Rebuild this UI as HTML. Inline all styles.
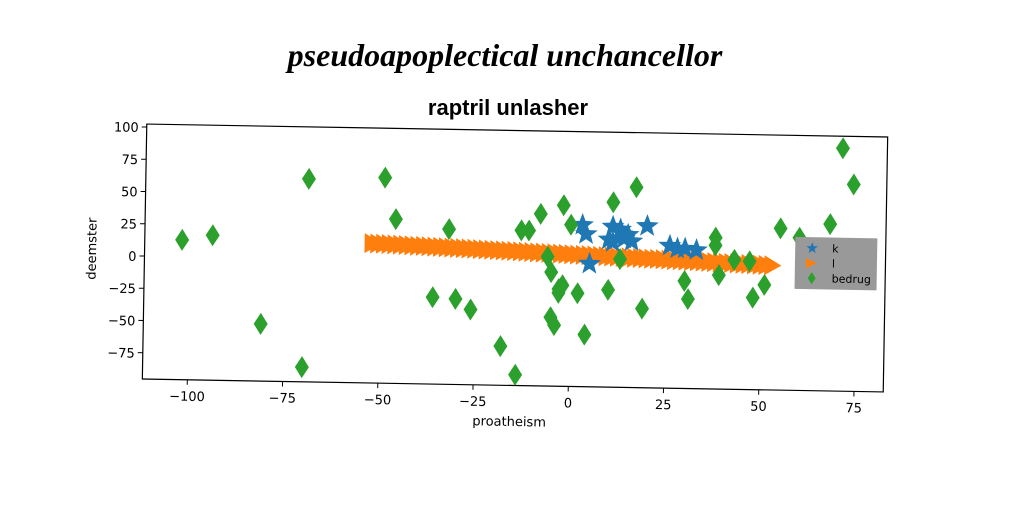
<!DOCTYPE html>
<html><head><meta charset="utf-8"><style>
html,body{margin:0;padding:0;background:#fff;}
svg text{font-family:"DejaVu Sans","Liberation Sans",sans-serif;}
</style></head><body>
<svg width="1024" height="512" viewBox="0 0 1024 512" xmlns="http://www.w3.org/2000/svg">
<rect width="1024" height="512" fill="#fff"/>
<text x="505" y="66" text-anchor="middle" font-size="32" font-style="italic" font-weight="bold" style="font-family:'Liberation Serif',serif">pseudoapoplectical unchancellor</text>
<text x="508" y="115" text-anchor="middle" font-size="22" font-weight="bold" style="font-family:'Liberation Sans Narrow','Liberation Sans',sans-serif">raptril unlasher</text>
<g id="plot" transform="rotate(1 515 258)"></g>
</svg>
<script>
const xTicks=[-100,-75,-50,-25,0,25,50,75];
const yTicks=[100,75,50,25,0,-25,-50,-75];
const kX=[3,4,10,11,13,14,15,20,26,28,30,33,11,5,16];
const kY=[30,23,19,29,27,20,23,30,15,13,13,12,17,0,18];
const lX=[-52,-50.5,-49,-47.5,-46,-44.5,-43,-41.5,-40,-38.5,-37,-35.5,-34,-32.5,-31,-29.5,-28,-26.5,-25,-23.5,-22,-20.5,-19,-17.5,-16,-14.5,-13,-11.5,-10,-8.5,-7,-5.5,-4,-2.5,-1,0.5,2,3.5,5,6.5,8,9.5,11,12.5,14,15.5,17,18.5,20,21.5,23,24.5,26,27.5,29,30.5,32,33.5,35,36.5,38,39.5,41,42.5,44,45.5,47,48.5,50,51.5,53];
const lY=[13,12.8,12.7,12.5,12.3,12.2,12,11.8,11.6,11.5,11.3,11.1,11,10.8,10.6,10.5,10.3,10.1,10,9.8,9.6,9.5,9.3,9.1,8.9,8.8,8.6,8.4,8.3,8.1,7.9,7.8,7.6,7.4,7.3,7.1,6.9,6.7,6.6,6.4,6.2,6.1,5.9,5.7,5.6,5.4,5.2,5.1,4.9,4.7,4.6,4.4,4.2,4,3.9,3.7,3.5,3.4,3.2,3,2.9,2.7,2.5,2.4,2.2,2,1.9,1.7,1.5,1.4,1.2];
const bX=[-102,-94,-81,-70,-69,-49,-46,-36,-30,-32,-26,-18,-14,-13,-11,-8,-6,-5,-5,-4,-3,-3,-2,-2,0,2,4,10,11,13,17,19,30,31,38,38,39,43,47,48,51,55,60,68,71,74];
const bY=[13,17,-51,-84,62,64,32,-28,-29,25,-37,-65,-87,25,25,38,5,-7,-42,-48,-23,-20,-17,45,30,-23,-55,-20,48,4,60,-34,-12,-26,22,16,-7,5,4,-24,-14,30,23,34,93,65];
const NS='http://www.w3.org/2000/svg';
const g=document.getElementById('plot');
const L=144.5,R=885.5,T=130.5,B=385.5;
const xs=v=>570.5+3.81*v, ys=v=>262.5-1.29*v;
function el(t,a){const e=document.createElementNS(NS,t);for(const k in a)e.setAttribute(k,a[k]);g.appendChild(e);return e;}
const frame=el('rect',{x:L,y:T,width:R-L,height:B-T,fill:'none',stroke:'#000','stroke-width':1.2});


xTicks.forEach(v=>{const x=xs(v);
 const t=el('line',{x1:x,x2:x,y1:B,y2:B+5,stroke:'#000'});
 
 
 const s=el('text',{x:x,y:B+21,'text-anchor':'middle','font-size':13});s.textContent=v<0?'\u2212'+(-v):v;
 
 });
yTicks.forEach(v=>{const y=ys(v);
 const t=el('line',{x1:L-5,x2:L,y1:y,y2:y,stroke:'#000'});
 
 
 const s=el('text',{x:L-8,y:y+5,'text-anchor':'end','font-size':13});s.textContent=v<0?'\u2212'+(-v):v;
 
 });
const xl=el('text',{x:512,y:426,'text-anchor':'middle','font-size':13});xl.textContent='proatheism';


const yl=el('text',{x:0,y:0,'text-anchor':'middle','font-size':13,transform:'translate(96 256) rotate(-90)'});yl.textContent='deemster';


function star(cx,cy,r){let p=[];for(let i=0;i<10;i++){const a=-Math.PI/2+i*Math.PI/5,rr=i%2?r*0.42:r;p.push((cx+rr*Math.cos(a)).toFixed(1)+','+(cy+rr*Math.sin(a)).toFixed(1));}return p.join(' ');}
function diam(cx,cy){return `${cx},${cy-11} ${cx+7},${cy} ${cx},${cy+11} ${cx-7},${cy}`;}
function tri(cx,cy){return `${cx-8},${cy-10} ${cx+9},${cy} ${cx-8},${cy+10}`;}
lX.forEach((v,i)=>{const p=el('polygon',{points:tri(xs(v),ys(lY[i])),fill:'#ff7f0e'});
 
 });
kX.forEach((v,i)=>{const p=el('polygon',{points:star(xs(v),ys(kY[i]),12),fill:'#1f77b4'});
 
 });
bX.forEach((v,i)=>{const p=el('polygon',{points:diam(xs(v),ys(bY[i])),fill:'#2ca02c'});
 
 });
const lg=el('rect',{x:795,y:232,width:82,height:52,fill:'#999'});


[['k','#1f77b4'],['l','#ff7f0e'],['bedrug','#2ca02c']].forEach((e,i)=>{
 const y=243+i*15;let m;
 if(i==0)m=el('polygon',{points:star(812,y,6),fill:e[1]});
 else if(i==1)m=el('polygon',{points:`806,${y-5} 817,${y} 806,${y+5}`,fill:e[1]});
 else m=el('polygon',{points:`812,${y-6} 816,${y} 812,${y+6} 808,${y}`,fill:e[1]});
 
 
 const t=el('text',{x:832,y:y+4,'font-size':11});t.textContent=e[0];
 
 });
</script>
</body></html>
